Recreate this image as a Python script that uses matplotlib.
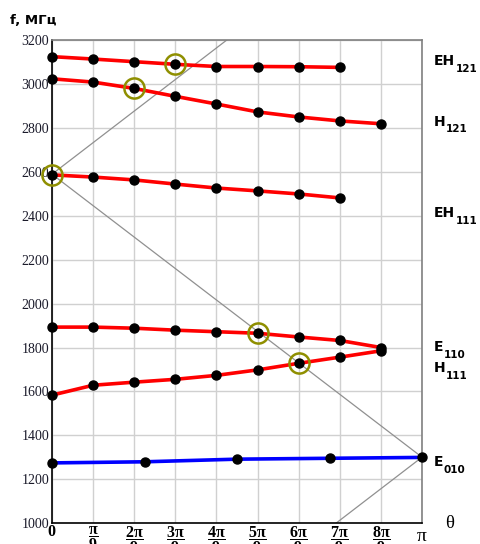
import numpy as np
import matplotlib
matplotlib.use("Agg")
import matplotlib.pyplot as plt

plt.rcParams['mathtext.fontset'] = 'custom'
plt.rcParams['mathtext.rm'] = 'Liberation Serif'
plt.rcParams['mathtext.it'] = 'Liberation Serif:italic'
plt.rcParams['mathtext.bf'] = 'Liberation Serif:bold'

# ---- data (theta in units of pi/9, f in MHz) ----
steps = np.arange(10)  # 0 .. 9  (9 -> pi)
eh121 = [3126, 3115, 3103, 3091, 3081, 3081, 3080, 3077]
h121 = [3025, 3010, 2981, 2945, 2910, 2874, 2851, 2833, 2820]
eh111 = [2587, 2577, 2564, 2545, 2527, 2514, 2500, 2482]
e110 = [1893, 1893, 1888, 1879, 1872, 1865, 1848, 1832, 1800]
h111 = [1583, 1628, 1642, 1655, 1673, 1698, 1728, 1756, 1785]
e010_theta = [0, 2.25, 4.5, 6.75, 9]
e010 = [1274, 1279, 1291, 1295, 1299]

# light lines
light_k = 1295 / 9.0
light1_theta = [0, 4.3]
light1_f = [2590, 2590 + 4.3 * light_k]
light2_theta = [0, 9]
light2_f = [2590, 1300]
light3_theta = [9, 9 - 300 / light_k]
light3_f = [1300, 1000]

# intersections (circled)
circ_theta = [0, 2, 3, 5, 6]
circ_f = [2587, 2981, 3091, 1868, 1728]

# mode labels: name, subscript, f position
labels = [("EH", "121", 3104), ("H", "121", 2830), ("EH", "111", 2413),
          ("E", "110", 1803), ("H", "111", 1706), ("E", "010", 1278)]

xtick_labels = [r'$\mathbf{0}$'] + \
    [r'$\mathbf{\dfrac{%s\pi}{9}}$' % ('' if i == 1 else str(i)) for i in range(1, 9)] + \
    ['']

fig = plt.figure(figsize=(4.81, 5.44), dpi=100)
ax = fig.add_axes([52 / 481, 21 / 544, 370 / 481, 482.6 / 544])

ax.set_xlim(0, 9)
ax.set_ylim(1000, 3200)
ax.set_xticks(steps)
ax.set_yticks(np.arange(1000, 3201, 200))
ax.grid(True, color='#d0d0d0', lw=1)
ax.set_axisbelow(True)

for lt, lf in [(light1_theta, light1_f), (light2_theta, light2_f), (light3_theta, light3_f)]:
    ax.plot(lt, lf, color='#909090', lw=0.9, zorder=2)

ms = 6.5
for series in [eh121, h121, eh111, e110, h111]:
    ax.plot(steps[:len(series)], series, color='#ff0000', lw=2.6, zorder=3)
    ax.plot(steps[:len(series)], series, 'o', color='black', ms=ms, zorder=4, clip_on=False)
ax.plot(e010_theta, e010, color='#0000ff', lw=2.6, zorder=3)
ax.plot(e010_theta, e010, 'o', color='black', ms=ms, zorder=4, clip_on=False)

ax.plot(circ_theta, circ_f, 'o', mfc='none', mec='#8f8f00', mew=1.8, ms=14.5, zorder=5, clip_on=False)

for sp in ['top', 'right']:
    ax.spines[sp].set_color('#808080')
for sp in ['left', 'bottom']:
    ax.spines[sp].set_color('black')
for sp in ax.spines.values():
    sp.set_linewidth(1.2)

ax.tick_params(axis='x', length=0, pad=1)
ax.tick_params(axis='y', length=0, pad=2)
ax.set_xticklabels(xtick_labels, fontsize=11.5, va='top')
ax.set_yticklabels([str(v) for v in range(1000, 3201, 200)], fontsize=10,
                   family='Liberation Serif', color='#1a1a2a')

# pi at the end of the axis
ax.annotate('π', (9, 1000), xytext=(0, -10), textcoords='offset points',
            fontsize=14, ha='center', va='center', family='Liberation Serif',
            annotation_clip=False)

for name, sub, fy in labels:
    t = ax.annotate(name, (9.28, fy), xycoords='data', fontsize=10, fontweight='bold',
                    va='center', ha='left', annotation_clip=False, family='DejaVu Sans')
    ax.annotate(sub, xy=(1, 0), xycoords=t, xytext=(0.5, -0.5), textcoords='offset points',
                fontsize=7.5, fontweight='bold', va='center', ha='left',
                annotation_clip=False, family='DejaVu Sans')

ax.annotate('θ', (9.66, 1000), fontsize=13.5, va='center', ha='center',
            family='Liberation Serif', annotation_clip=False)
fig.text(10 / 481, 1 - 20 / 544, 'f, МГц', fontsize=9.5, fontweight='bold',
         va='center', ha='left', family='DejaVu Sans')

fig.savefig('out.png', dpi=100)
